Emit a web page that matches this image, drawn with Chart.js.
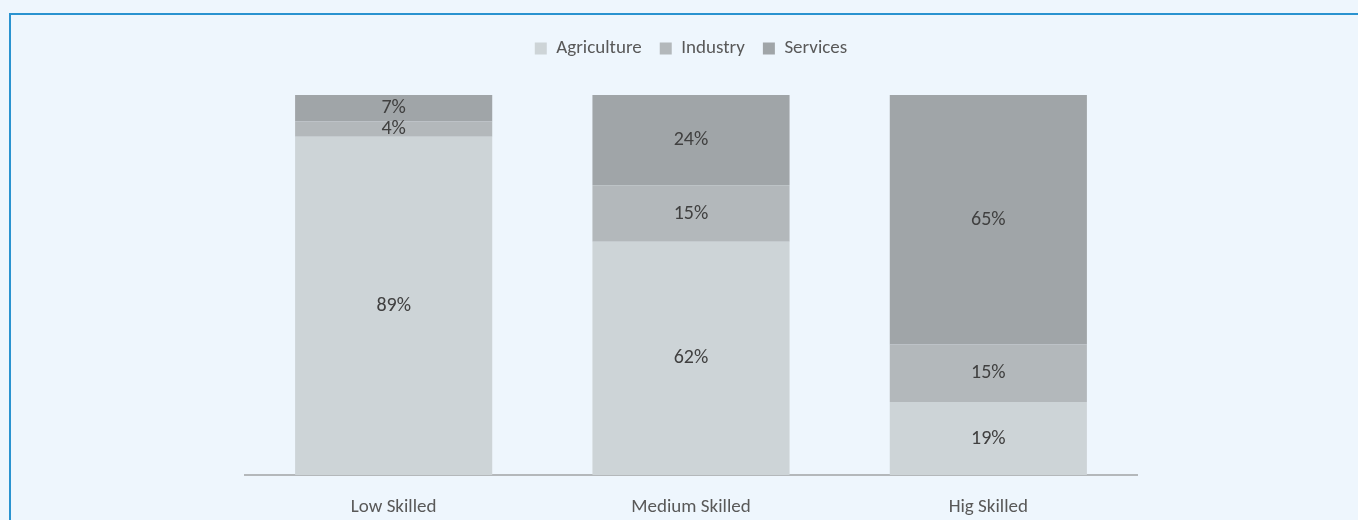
<!DOCTYPE html>
<html>
<head>
<meta charset="utf-8">
<script src="https://cdn.jsdelivr.net/npm/chart.js@4.4.0/dist/chart.umd.min.js"></script>
<style>
  body { margin: 0; background: #eef6fd; overflow: hidden; }
  #frame {
    position: absolute; left: 9px; top: 13px; width: 1400px; height: 560px;
    border-left: 2px solid #2a93d0; border-top: 2px solid #2a93d0;
  }
  #myChart { position: absolute; left: 0; top: 0; }
</style>
</head>
<body>
<div id="frame"></div>
<canvas id="myChart" width="1358" height="520"></canvas>
<script>
// skill categories on the x axis
let categories = ["Low Skilled", "Medium Skilled", "Hig Skilled"];

// employment share by sector (%)
let agriculture = [89, 62, 19];
let industry = [4, 15, 15];
let services = [7, 24, 65];

let sectorNames = ["Agriculture", "Industry", "Services"];
let sectorColors = ["#cdd4d7", "#b3b8bb", "#a0a5a8"];

let raw = [agriculture, industry, services];
let fontFamily = '"Carlito", "Liberation Sans", Arial, sans-serif';

// bars are drawn 100% stacked, so scale each column to its total
let totals = categories.map(function(c, i){
  return agriculture[i] + industry[i] + services[i];
});

let datasets = raw.map(function(values, k){
  return {
    label: sectorNames[k],
    data: values.map(function(v, i){ return v / totals[i] * 100; }),
    labelValues: values,
    backgroundColor: sectorColors[k],
    borderWidth: 0,
    barPercentage: 0.663,
    categoryPercentage: 1
  };
});

// writes the percent in the middle of each segment
let segmentLabels = {
  id: 'segmentLabels',
  afterDatasetsDraw: function(chart){
    let ctx = chart.ctx;
    ctx.save();
    ctx.font = '20px ' + fontFamily;
    ctx.fillStyle = '#404040';
    ctx.textAlign = 'center';
    ctx.textBaseline = 'middle';
    chart.data.datasets.forEach(function(ds, k){
      chart.getDatasetMeta(k).data.forEach(function(bar, i){
        let mid = (bar.y + bar.base) / 2;
        ctx.fillText(ds.labelValues[i] + '%', bar.x, mid);
      });
    });
    ctx.restore();
  }
};

// extra room under the legend
let legendGap = {
  id: 'legendGap',
  beforeInit: function(chart){
    let fit = chart.legend.fit;
    chart.legend.fit = function(){
      fit.bind(chart.legend)();
      this.height += 27;
    };
  }
};

var ctx = document.getElementById('myChart');
var chart = new Chart(ctx, {
  type: 'bar',
  data: {
    labels: categories,
    datasets: datasets
  },
  plugins: [segmentLabels, legendGap],
  options: {
    responsive: false,
    animation: false,
    layout: { padding: { left: 245, right: 221, top: 21, bottom: 0 } },
    plugins: {
      legend: {
        position: 'top',
        labels: {
          boxWidth: 12,
          boxHeight: 12,
          padding: 18,
          color: '#595959',
          font: { family: fontFamily, size: 19 }
        }
      },
      tooltip: { enabled: false }
    },
    scales: {
      x: {
        stacked: true,
        grid: { display: false, drawTicks: false },
        border: { color: '#b4b8bb', width: 2 },
        afterFit: function(scale){ scale.height = 45; },
        ticks: {
          color: '#595959',
          padding: 21,
          font: { family: fontFamily, size: 19 }
        }
      },
      y: {
        stacked: true,
        display: false,
        min: 0,
        max: 100
      }
    }
  }
});
</script>
</body>
</html>
